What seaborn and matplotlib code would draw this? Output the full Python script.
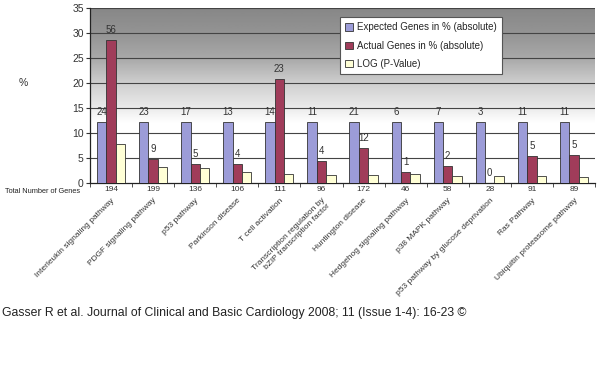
import matplotlib
matplotlib.use("Agg")
import matplotlib.pyplot as plt
import numpy as np
import pandas as pd
import seaborn as sns

pathways = [
    "Interleukin signaling pathway",
    "PDGF signaling pathway",
    "p53 pathway",
    "Parkinson disease",
    "T cell activation",
    "Transcription regulation by\nbZIP transcription factor",
    "Huntington disease",
    "Hedgehog signaling pathway",
    "p38 MAPK pathway",
    "p53 pathway by glucose deprivation",
    "Ras Pathway",
    "Ubiquitin proteasome pathway",
]
expected_pct = [12.3, 12.3, 12.3, 12.3, 12.3, 12.3, 12.3, 12.3, 12.3, 12.3, 12.3, 12.3]
actual_pct = [28.7, 4.8, 3.8, 3.8, 20.8, 4.5, 7.0, 2.2, 3.4, 0.0, 5.5, 5.7]
log_p = [7.9, 3.2, 3.0, 2.3, 1.9, 1.7, 1.7, 1.9, 1.5, 1.5, 1.5, 1.3]
expected_n = [24, 23, 17, 13, 14, 11, 21, 6, 7, 3, 11, 11]
actual_n = [56, 9, 5, 4, 23, 4, 12, 1, 2, 0, 5, 5]
total_n = [194, 199, 136, 106, 111, 96, 172, 46, 58, 28, 91, 89]
series = ["Expected Genes in % (absolute)", "Actual Genes in % (absolute)", "LOG (P-Value)"]
colors = ["#9c9cd8", "#a03c5a", "#ffffd6"]

df = pd.DataFrame({
    "pathway": pathways * 3,
    "series": [series[0]] * 12 + [series[1]] * 12 + [series[2]] * 12,
    "value": expected_pct + actual_pct + log_p,
})

sns.set_style("white")
plt.rcParams["font.family"] = ["Liberation Sans", "DejaVu Sans"]

fig = plt.figure(figsize=(6, 3.65), dpi=100)
ax = fig.add_axes([90 / 600, 1 - 183 / 365, 505 / 600, 175 / 365])

# gradient background: white low down, gray toward the top
yy = np.linspace(0, 35, 300)
grad = np.interp(yy, [0, 12, 15, 20, 25, 30, 35], [1, 1, 0.92, 0.81, 0.66, 0.58, 0.53])
ax.imshow(grad[::-1, None], extent=[-0.5, 11.5, 0, 35], aspect="auto",
          cmap="gray", vmin=0, vmax=1, zorder=0)

sns.barplot(data=df, x="pathway", y="value", hue="series", palette=colors,
            width=0.67, edgecolor="#333333", linewidth=0.6, saturation=1,
            ax=ax, zorder=3)

ax.set_xlim(-0.5, 11.5)
ax.set_ylim(0, 35)
ax.set_yticks(range(0, 36, 5))
ax.tick_params(axis="y", labelsize=7.5, colors="#333333", length=3, width=0.8,
               direction="out", left=True, pad=1.5)
for y in range(5, 36, 5):
    ax.axhline(y, color="#444444", linewidth=0.8, zorder=1)

# category boundary ticks
ax.set_xticks(np.arange(-0.5, 12, 1), minor=True)
ax.tick_params(axis="x", which="minor", length=3, width=0.6, color="#333333",
               direction="out", bottom=True)
ax.set_xticks(range(12))
ax.set_xticklabels(pathways, rotation=45, ha="right", rotation_mode="anchor",
                   fontsize=6, color="#333333", linespacing=1.15)
ax.tick_params(axis="x", which="major", length=0, pad=10)

for s in ["top", "right"]:
    ax.spines[s].set_visible(False)
ax.spines["left"].set_color("#222222")
ax.spines["bottom"].set_color("#222222")
ax.spines["left"].set_linewidth(0.9)
ax.spines["bottom"].set_linewidth(0.9)
ax.set_xlabel("")
ax.set_ylabel("")

# value labels
bw = 0.67 / 3
for i in range(12):
    ax.text(i - bw, expected_pct[i] + 1.0, str(expected_n[i]), ha="center", va="bottom",
            fontsize=7, color="#333333", zorder=5)
    ax.text(i, actual_pct[i] + 1.0, str(actual_n[i]), ha="center", va="bottom",
            fontsize=7, color="#333333", zorder=5)
    ax.text(i, -0.6, str(total_n[i]), ha="center", va="top", fontsize=6,
            color="#333333", clip_on=False)

fig.text(80 / 600, 1 - 187.5 / 365, "Total Number of Genes", ha="right", va="top",
         fontsize=5.3, color="#222222")
fig.text(23 / 600, 1 - 83 / 365, "%", ha="center", va="center", fontsize=7.5, color="#333333")

handles, labels = ax.get_legend_handles_labels()
leg = ax.legend(handles, labels, loc="upper left", bbox_to_anchor=(340 / 600, 1 - 17 / 365),
                bbox_transform=fig.transFigure, borderaxespad=0, fontsize=7, frameon=True,
                fancybox=False, handlelength=0.8, handleheight=0.8, handletextpad=0.4,
                borderpad=0.55, labelspacing=0.85)
leg.get_frame().set_edgecolor("#555555")
leg.get_frame().set_linewidth(0.8)
leg.get_frame().set_facecolor("white")
leg.get_frame().set_alpha(1)
leg.set_zorder(10)

fig.text(2 / 600, 1 - 313 / 365,
         "Gasser R et al. Journal of Clinical and Basic Cardiology 2008; 11 (Issue 1-4): 16-23 \u00a9",
         ha="left", va="center", fontsize=8.8, color="#222222")

fig.savefig("out.png", dpi=100)
